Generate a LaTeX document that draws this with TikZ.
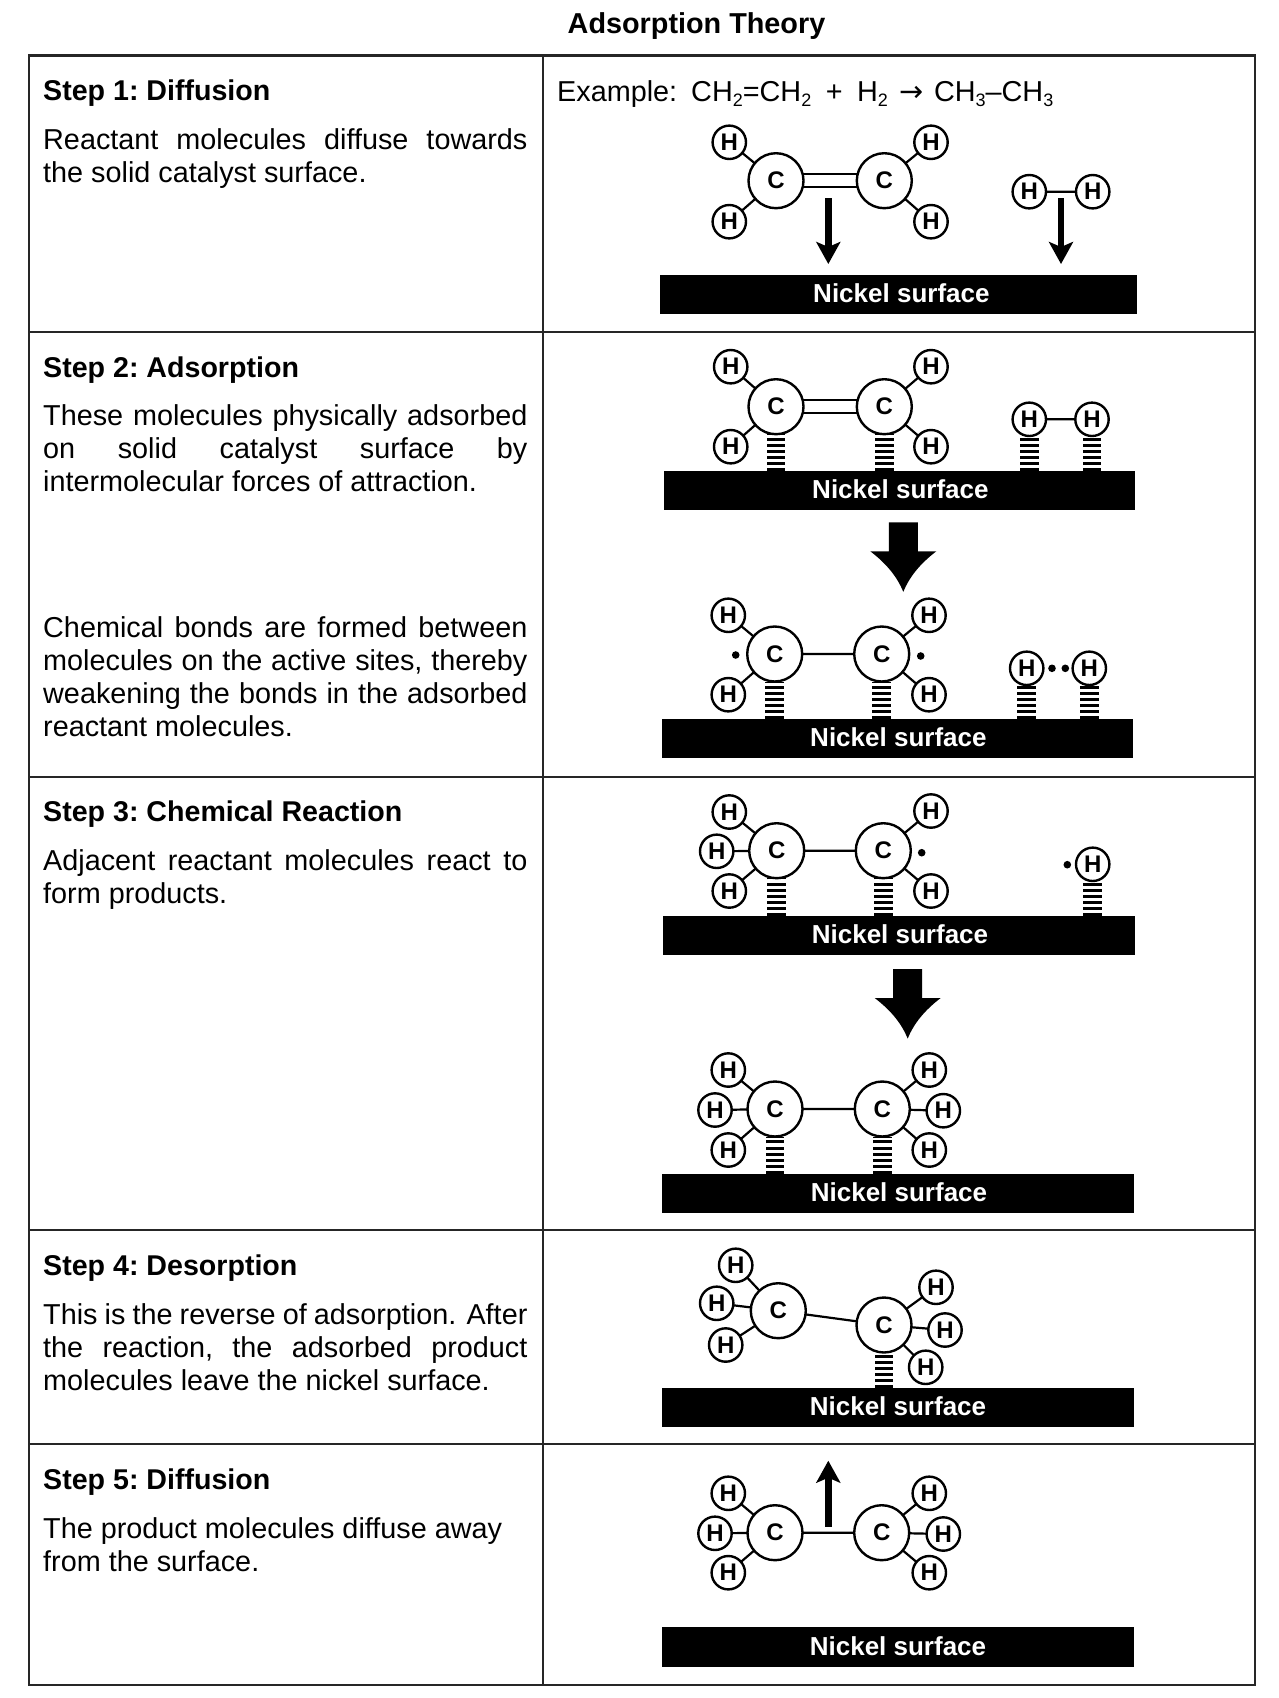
\documentclass[tikz,border=0pt]{standalone}
\usepackage{fontspec}
\setmainfont{Liberation Sans}
\newfontfamily\arrowfont{DejaVu Sans}
\usetikzlibrary{arrows.meta,calc}
\newcommand{\subs}[1]{\raisebox{-5pt}{\fontsize{18}{18}\selectfont #1}}
\newcommand{\surflabel}[1][0pt]{\hspace*{#1}\raisebox{2.8pt}{Nickel surface}}
\newcommand{\fontglue}{\spaceskip=0pt\relax\xspaceskip=0pt\relax}
\newcommand{\jline}[1]{\makebox[484.2pt][s]{\fontglue #1}\par}
\newcommand{\lastline}[1]{\mbox{\fontglue #1}}
\hfuzz=30pt
\hbadness=10000
\tikzset{
  x=1pt,y=-1pt,
  gridline/.style={draw=black!85,line width=2pt},
  headtext/.style={anchor=base,inner sep=0pt,font=\fontsize{28.8}{33}\selectfont\bfseries},
  steptitle/.style={anchor=base west,inner sep=0pt,font=\fontsize{28.6}{33}\selectfont\bfseries\frenchspacing},
  steptext/.style={anchor=base west,inner sep=0pt,text width=500pt,font=\fontsize{28.8}{33}\selectfont\frenchspacing},
  catom/.style={circle,draw=black,fill=white,line width=2.4pt,minimum size=55pt,inner sep=0pt,outer sep=0pt,font=\fontsize{24}{24}\selectfont\bfseries},
  hatom/.style={circle,draw=black,fill=white,line width=2.4pt,minimum size=33.4pt,inner sep=0pt,outer sep=0pt,font=\fontsize{24}{24}\selectfont\bfseries},
  bond/.style={draw=black,line width=2.2pt},
  vdw/.style={draw=black,line width=18.5pt,dash pattern=on 3pt off 3.1pt},
  surface/.style={rectangle,fill=black,text=white,inner sep=0pt,outer sep=0pt,font=\fontsize{26}{26}\selectfont\bfseries},
  radical/.style={circle,fill=black,minimum size=7.6pt,inner sep=0pt},
  moveline/.style={draw=black,line width=6.4pt,-{Stealth[length=22pt,width=24pt,inset=5pt]}},
  blockarrow/.style={fill=black},
}
\newcommand{\blockdown}[2]{%
  \fill[blockarrow] (#1-14.5,#2) -- (#1+14.5,#2) -- (#1+14.5,#2+29) -- (#1+33,#2+29)
   .. controls (#1+16,#2+42) and (#1+6,#2+55) .. (#1,#2+69.5)
   .. controls (#1-6,#2+55) and (#1-16,#2+42) .. (#1-33,#2+29) -- (#1-14.5,#2+29) -- cycle;}
\begin{document}
\begin{tikzpicture}
\useasboundingbox (0,0) rectangle (1279,1698);
\fill[white] (0,0) rectangle (1279,1698);
% table
\draw[gridline,line width=2.4pt] (29,55.3) rectangle (1255,1685);
\draw[gridline] (542.5,55.3) -- (542.5,1685);
\draw[gridline] (29,331.5) -- (1255,331.5);
\draw[gridline] (29,776.5) -- (1255,776.5);
\draw[gridline] (29,1230) -- (1255,1230);
\draw[gridline] (29,1444) -- (1255,1444);
% title
\node[headtext] (title) at (696.5,33) {Adsorption Theory};
% left column
\node[steptitle] (s1) at (43,100) {Step 1: Diffusion};
\node[steptext] (t1) at (43,149) {\jline{Reactant molecules diffuse towards}\lastline{the solid catalyst surface.}};
\node[steptitle] (s2) at (43,377) {Step 2: Adsorption};
\node[steptext] (t2) at (43,425) {\jline{These molecules physically adsorbed}\jline{on solid catalyst surface by}\lastline{intermolecular forces of attraction.}};
\node[steptext] (t2b) at (43,637) {\jline{Chemical bonds are formed between}\jline{molecules on the active sites, thereby}\jline{weakening the bonds in the adsorbed}\lastline{reactant molecules.}};
\node[steptitle] (s3) at (43,821) {Step 3: Chemical Reaction};
\node[steptext] (t3) at (43,870.3) {\jline{Adjacent reactant molecules react to}\lastline{form products.}};
\node[steptitle] (s4) at (43,1275) {Step 4: Desorption};
\node[steptext] (t4) at (43,1324) {\jline{This is the reverse of adsorption.\hspace{3pt} After}\jline{the reaction, the adsorbed product}\lastline{molecules leave the nickel surface.}};
\node[steptitle] (s5) at (43,1489.5) {Step 5: Diffusion};
\node[steptext] (t5) at (43,1538) {\lastline{The product molecules diffuse away}\par\lastline{from the surface.}};
% example
\node[anchor=base west,inner sep=0pt,font=\fontsize{28.8}{33}\selectfont] (ex) at (557,101.7)
  {Example:\hspace{14pt}CH\subs{2}=CH\subs{2}\hspace{14.5pt}+\hspace{14.5pt}H\subs{2}\hspace{12pt}{\arrowfont →}\hspace{10pt}CH\subs{3}–CH\subs{3}};

% panel 1
\node[surface,minimum width=476.7pt,minimum height=39.6pt] (b1) at (898.4,294.5) {\surflabel[6pt]};
\node[catom] (a1) at (776,180.7) {C};
\node[catom] (a2) at (884.3,180.7) {C};
\node[hatom] (a3) at (729.3,142.3) {H};
\node[hatom] (a4) at (729.3,221.7) {H};
\node[hatom] (a5) at (931,142.3) {H};
\node[hatom] (a6) at (931,221.7) {H};
\node[hatom] (a7) at (1029.3,191.7) {H};
\node[hatom] (a8) at (1092.7,191.7) {H};
\draw[bond] (a1.14) -- (a2.166);
\draw[bond] (a1.-14) -- (a2.-166);
\draw[bond] (a1)--(a3) (a1)--(a4) (a2)--(a5) (a2)--(a6) (a7)--(a8);
\coordinate (m1) at (828.3,198); \coordinate (m2) at (828.3,264);
\coordinate (m3) at (1061,198); \coordinate (m4) at (1061,264);
\draw[moveline] (m1) -- (m2);
\draw[moveline] (m3) -- (m4);

% panel 2
\node[surface,minimum width=470.7pt,minimum height=38.7pt] (b2) at (899.4,490.6) {\surflabel[2pt]};
\node[catom] (e1) at (776,406.7) {C};
\node[catom] (e2) at (884.3,406.7) {C};
\node[hatom] (e3) at (730.7,366.7) {H};
\node[hatom] (e4) at (730.7,446.7) {H};
\node[hatom] (e5) at (931,366.7) {H};
\node[hatom] (e6) at (931,446.7) {H};
\node[hatom] (e7) at (1029.3,419.3) {H};
\node[hatom] (e8) at (1092,419.3) {H};
\draw[bond] (e1.14) -- (e2.166);
\draw[bond] (e1.-14) -- (e2.-166);
\draw[bond] (e1)--(e3) (e1)--(e4) (e2)--(e5) (e2)--(e6) (e7)--(e8);
\draw[vdw] (e1 |- b2.north) -- (e1.south);
\draw[vdw] (e2 |- b2.north) -- (e2.south);
\draw[vdw] (e7 |- b2.north) -- (e7.south);
\draw[vdw] (e8 |- b2.north) -- (e8.south);
\blockdown{903.3}{522.3}

% panel 3
\node[surface,minimum width=470.7pt,minimum height=39pt] (b3) at (897.4,738.8) {\surflabel[2pt]};
\node[catom] (f1) at (774.7,654) {C};
\node[catom] (f2) at (881.7,654) {C};
\node[hatom] (f3) at (728.3,615.3) {H};
\node[hatom] (f4) at (728.3,694.7) {H};
\node[hatom] (f5) at (929,615.3) {H};
\node[hatom] (f6) at (929,694.7) {H};
\node[hatom] (f7) at (1026.7,668.3) {H};
\node[hatom] (f8) at (1089.3,668.3) {H};
\draw[bond] (f1)--(f2) (f1)--(f3) (f1)--(f4) (f2)--(f5) (f2)--(f6);
\node[radical] (fd1) at (735.7,655) {};
\node[radical] (fd2) at (920.7,656) {};
\node[radical] (fd3) at (1052,668.3) {};
\node[radical] (fd4) at (1065.3,668.3) {};
\draw[vdw] (f1 |- b3.north) -- (f1.south);
\draw[vdw] (f2 |- b3.north) -- (f2.south);
\draw[vdw] (f7 |- b3.north) -- (f7.south);
\draw[vdw] (f8 |- b3.north) -- (f8.south);

% panel 4
\node[surface,minimum width=472pt,minimum height=39pt] (b4) at (899,935.5) {\surflabel[2pt]};
\node[catom] (g1) at (776.7,850.7) {C};
\node[catom] (g2) at (883.3,850.7) {C};
\node[hatom] (g3) at (729.3,812) {H};
\node[hatom] (g4) at (716.7,851.3) {H};
\node[hatom] (g5) at (729.3,891) {H};
\node[hatom] (g6) at (931,811) {H};
\node[hatom] (g7) at (931,891) {H};
\node[hatom] (g8) at (1092.7,864.3) {H};
\draw[bond] (g1)--(g2) (g1)--(g3) (g1)--(g4) (g1)--(g5) (g2)--(g6) (g2)--(g7);
\node[radical] (gd1) at (921.7,852.7) {};
\node[radical] (gd2) at (1067.3,864.7) {};
\draw[vdw] (g1 |- b4.north) -- (g1.south);
\draw[vdw] (g2 |- b4.north) -- (g2.south);
\draw[vdw] (g8 |- b4.north) -- (g8.south);
\blockdown{907.7}{969}

% panel 5
\node[surface,minimum width=472pt,minimum height=38.7pt] (b5) at (898,1193.3) {\surflabel[2pt]};
\node[catom] (k1) at (775,1109) {C};
\node[catom] (k2) at (882.3,1109) {C};
\node[hatom] (k3) at (728.3,1070) {H};
\node[hatom] (k4) at (715,1110) {H};
\node[hatom] (k5) at (728.3,1150) {H};
\node[hatom] (k6) at (929.3,1070) {H};
\node[hatom] (k7) at (943.3,1110.7) {H};
\node[hatom] (k8) at (929.3,1150) {H};
\draw[bond] (k1)--(k2) (k1)--(k3) (k1)--(k4) (k1)--(k5) (k2)--(k6) (k2)--(k7) (k2)--(k8);
\draw[vdw] (k1 |- b5.north) -- (k1.south);
\draw[vdw] (k2 |- b5.north) -- (k2.south);

% panel 6
\node[surface,minimum width=472pt,minimum height=39pt] (b6) at (898,1407.8) {\surflabel};
\node[catom] (n1) at (778.3,1310.7) {C};
\node[catom] (n2) at (884,1325) {C};
\node[hatom] (n3) at (735.7,1265.3) {H};
\node[hatom] (n4) at (716.7,1303.3) {H};
\node[hatom] (n5) at (725.7,1345) {H};
\node[hatom] (n6) at (936,1287.3) {H};
\node[hatom] (n7) at (945,1330) {H};
\node[hatom] (n8) at (925.7,1367.3) {H};
\draw[bond] (n1)--(n2) (n1)--(n3) (n1)--(n4) (n1)--(n5) (n2)--(n6) (n2)--(n7) (n2)--(n8);
\draw[vdw] (n2 |- b6.north) -- (n2.south);

% panel 7
\node[surface,minimum width=472pt,minimum height=39.4pt] (b7) at (898,1647) {\surflabel};
\node[catom] (p1) at (775,1532.7) {C};
\node[catom] (p2) at (881.7,1532.7) {C};
\node[hatom] (p3) at (728.3,1493.3) {H};
\node[hatom] (p4) at (715,1533.3) {H};
\node[hatom] (p5) at (728.3,1572.7) {H};
\node[hatom] (p6) at (929.3,1493.3) {H};
\node[hatom] (p7) at (943.3,1534) {H};
\node[hatom] (p8) at (929.3,1572.7) {H};
\draw[bond] (p1)--(p2) (p1)--(p3) (p1)--(p4) (p1)--(p5) (p2)--(p6) (p2)--(p7) (p2)--(p8);
\coordinate (m5) at (828.3,1526.7); \coordinate (m6) at (828.3,1460.7);
\draw[moveline] (m5) -- (m6);
\end{tikzpicture}
\end{document}
